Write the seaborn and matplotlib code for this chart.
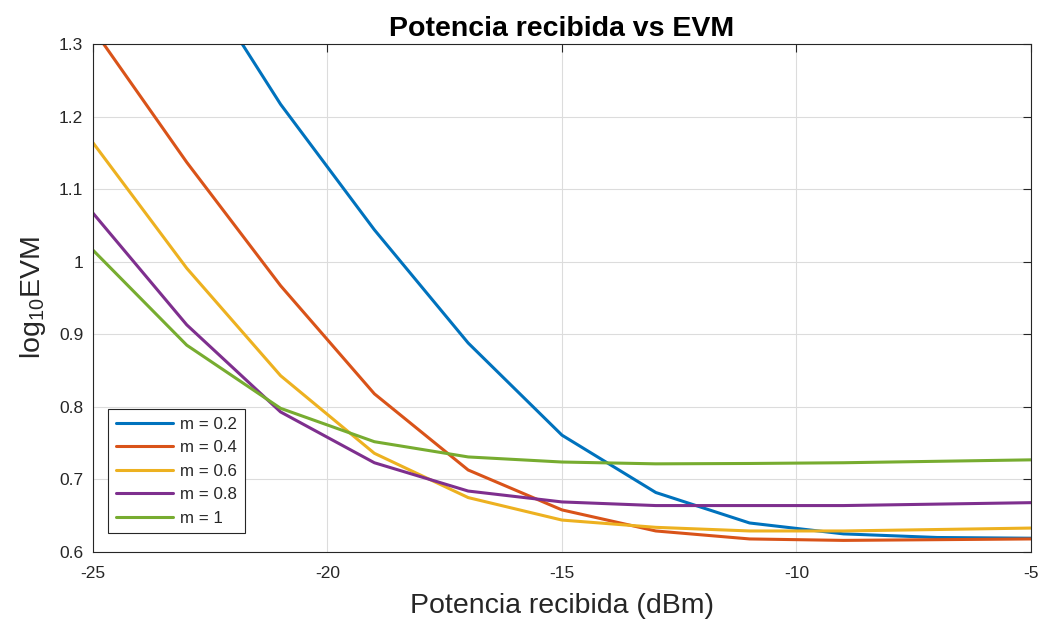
import numpy as np
import pandas as pd
import matplotlib
matplotlib.use("Agg")
import matplotlib.pyplot as plt
import seaborn as sns

potencia = [-25, -23, -21, -19, -17, -15, -13, -11, -9, -7, -5]
labels = ["m = 0.2", "m = 0.4", "m = 0.6", "m = 0.8", "m = 1"]
evm_m02 = [1.62, 1.42, 1.217, 1.044, 0.888, 0.761, 0.682, 0.640, 0.625, 0.620, 0.619]
evm_m04 = [1.321, 1.137, 0.967, 0.818, 0.713, 0.658, 0.629, 0.618, 0.616, 0.617, 0.618]
evm_m06 = [1.164, 0.991, 0.843, 0.736, 0.675, 0.644, 0.634, 0.629, 0.629, 0.631, 0.633]
evm_m08 = [1.067, 0.913, 0.793, 0.723, 0.684, 0.669, 0.664, 0.664, 0.664, 0.666, 0.668]
evm_m1 = [1.016, 0.885, 0.798, 0.752, 0.731, 0.724, 0.7215, 0.722, 0.723, 0.725, 0.727]
colors = ["#0072BD", "#D95319", "#EDB120", "#7E2F8E", "#77AC30"]

series = [evm_m02, evm_m04, evm_m06, evm_m08, evm_m1]
df = pd.concat(
    [pd.DataFrame({"x": potencia, "y": s, "m": lab}) for s, lab in zip(series, labels)],
    ignore_index=True,
)

sns.set_style("white")
plt.rcParams["font.family"] = ["Liberation Sans", "DejaVu Sans"]
plt.rcParams["mathtext.fontset"] = "custom"
plt.rcParams["mathtext.rm"] = "Liberation Sans"
plt.rcParams["mathtext.it"] = "Liberation Sans"

fig = plt.figure(figsize=(10.41, 6.21), dpi=100)
ax = fig.add_axes([0.0893, 0.1111, 0.9011, 0.8180])

sns.lineplot(data=df, x="x", y="y", hue="m", palette=colors, linewidth=2.2,
             ax=ax, sort=False, estimator=None, legend=True)

ax.set_xlim(-25, -5)
ax.set_ylim(0.6, 1.3)
ax.set_xticks([-25, -20, -15, -10, -5])
ax.set_xticklabels(["-25", "-20", "-15", "-10", "-5"])
ax.set_yticks([0.6, 0.7, 0.8, 0.9, 1.0, 1.1, 1.2, 1.3])
ax.set_yticklabels(["0.6", "0.7", "0.8", "0.9", "1", "1.1", "1.2", "1.3"])
ax.grid(True, color="#dcdcdc", linewidth=0.8)
ax.set_axisbelow(True)
ax.tick_params(direction="in", length=6, width=0.8, color="#262626",
               labelsize=12.5, top=True, right=True, labelcolor="#262626", pad=7)
ax.tick_params(axis="x", pad=10)
for s in ax.spines.values():
    s.set_color("#262626")
    s.set_linewidth(0.8)

ax.set_xlabel("Potencia recibida (dBm)", fontsize=20.5, color="#262626", labelpad=9)
ax.set_ylabel(r"log$_{10}$EVM", fontsize=20.5, color="#262626", labelpad=8)
ax.set_title("Potencia recibida vs EVM", fontsize=20.5, fontweight="bold", color="black", pad=6)

leg = ax.legend(loc="lower left", bbox_to_anchor=(0.007, 0.02), fontsize=12.2,
                handlelength=3.4, frameon=True, fancybox=False, framealpha=1,
                edgecolor="#262626", borderpad=0.45, labelspacing=0.5, handletextpad=0.4)
leg.get_frame().set_linewidth(0.8)

fig.savefig("out.png", dpi=100)
